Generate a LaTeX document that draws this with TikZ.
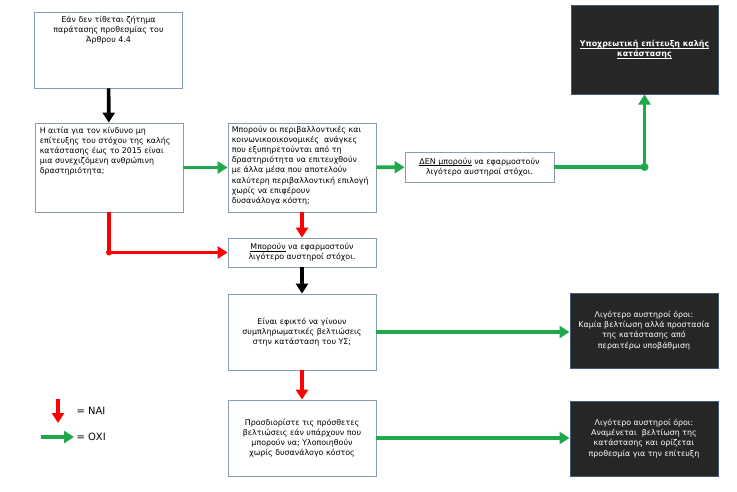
\documentclass[tikz,border=0pt]{standalone}
\usepackage{fontspec}
\setmainfont{DejaVu Sans}
\usetikzlibrary{arrows.meta}
\newcommand\undl[1]{\setbox0\hbox{#1}\rlap{\rule[-1.4pt]{\wd0}{0.45pt}}\box0\relax}

\begin{document}
\begin{tikzpicture}[x=1pt,y=-1pt,
  wbox/.style={draw=boxline,fill=white,line width=0.8pt,minimum width=148pt},
  dbox/.style={draw=darkline,fill=darkfill,line width=1pt,minimum width=148pt,text=white},
  txt/.style={font=\fontsize{7.9}{10.2}\selectfont,inner sep=2pt},
  arr/.style={line width=3.6pt,-{Triangle[length=10pt,width=12pt]}}]
\definecolor{boxline}{HTML}{8A9BB5}
\definecolor{darkline}{HTML}{46587A}
\definecolor{darkfill}{HTML}{262626}
\definecolor{yesred}{HTML}{FF0000}
\definecolor{nogreen}{HTML}{1FA84C}
\useasboundingbox (0,0) rectangle (737,491);
% boxes
\node [wbox,minimum height=76pt] (cond) at (108.5,50) {};
\node [txt,anchor=north,align=center] at ([yshift=-2pt]cond.north)
  {Εάν δεν τίθεται ζήτημα\\παράτασης προθεσμίας του\\Άρθρου 4.4};
\node [wbox,minimum height=89pt] (cause) at (109,167.5) {};
\node [txt,anchor=north west,align=left] at ([xshift=3pt,yshift=-2pt]cause.north west)
  {Η αιτία για τον κίνδυνο μη\\επίτευξης του στόχου της καλής\\κατάστασης έως το 2015 είναι\\μια συνεχιζόμενη ανθρώπινη\\δραστηριότητα;};
\node [wbox,minimum height=89pt] (means) at (302,167.5) {};
\node [txt,anchor=north west,align=left] at ([xshift=2pt,yshift=-1pt]means.north west)
  {Μπορούν οι περιβαλλοντικές και\\κοινωνικοοικονομικές\ \ ανάγκες\\που εξυπηρετούνται από τη\\δραστηριότητα να επιτευχθούν\\με άλλα μέσα που αποτελούν\\καλύτερη περιβαλλοντική επιλογή\\χωρίς να επιφέρουν\\δυσανάλογα κόστη;};
\node [wbox,txt,minimum width=149pt,minimum height=30pt,align=center] (cannot) at (479.5,167)
  {\undl{ΔΕΝ μπορούν} να εφαρμοστούν\\λιγότερο αυστηροί στόχοι.};
\node [dbox,txt,minimum width=147pt,minimum height=89pt,align=center] (good) at (644.5,49.5)
  {\bfseries\undl{Υποχρεωτική επίτευξη καλής}\\\bfseries\undl{κατάστασης}};
\node [wbox,txt,minimum height=29pt,align=center] (can) at (302,252.5)
  {\undl{Μπορούν} να εφαρμοστούν\\λιγότερο αυστηροί στόχοι.};
\node [wbox,txt,minimum height=76pt,align=center] (extra) at (302,332)
  {Είναι εφικτό να γίνουν\\συμπληρωματικές βελτιώσεις\\στην κατάσταση του ΥΣ;};
\node [dbox,txt,minimum height=75pt,align=center] (protect) at (644,330.5)
  {Λιγότερο αυστηροί όροι:\\Καμία βελτίωση αλλά προστασία\\της κατάστασης από\\περαιτέρω υποβάθμιση};
\node [wbox,txt,minimum height=76pt,align=center] (define) at (302,438)
  {Προσδιορίστε τις πρόσθετες\\βελτιώσεις εάν υπάρχουν που\\μπορούν να; Υλοποιηθούν\\χωρίς δυσανάλογο κόστος};
\node [dbox,txt,minimum height=75pt,align=center] (deadline) at (644,438.5)
  {Λιγότερο αυστηροί όροι:\\Αναμένεται\ \ βελτίωση της\\κατάστασης και ορίζεται\\προθεσμία για την επίτευξη};
% connectors
\draw [arr,black] (cond) -- (cause);
\draw [arr,nogreen] (cause) -- (means);
\draw [arr,nogreen] (means) -- (cannot);
\draw [arr,nogreen] (cannot.east) -| (good.south);
\fill [nogreen] (cannot.east -| good.south) circle (4pt);
\draw [arr,yesred] (means) -- (can);
\draw [arr,yesred] (cause.south) |- (can.west);
\fill [yesred] (cause.south |- can.west) circle (3pt);
\draw [arr,black] (can) -- (extra);
\draw [arr,nogreen] (extra.east) -- (extra.east -| protect.west);
\draw [arr,yesred] (extra) -- (define);
\draw [arr,nogreen] (define.east) -- (define.east -| deadline.west);
% legend
\coordinate (yestop) at (58,399);
\coordinate (yesend) at (58,423);
\draw [arr,yesred] (yestop) -- (yesend);
\node [anchor=west,font=\fontsize{10}{12}\selectfont] (yes) at (73,411) {= ΝΑΙ};
\coordinate (nostart) at (41,437);
\coordinate (noend) at (74,437);
\draw [arr,nogreen] (nostart) -- (noend);
\node [anchor=west,font=\fontsize{10}{12}\selectfont] (no) at (73,437) {= ΟΧΙ};
\end{tikzpicture}
\end{document}
